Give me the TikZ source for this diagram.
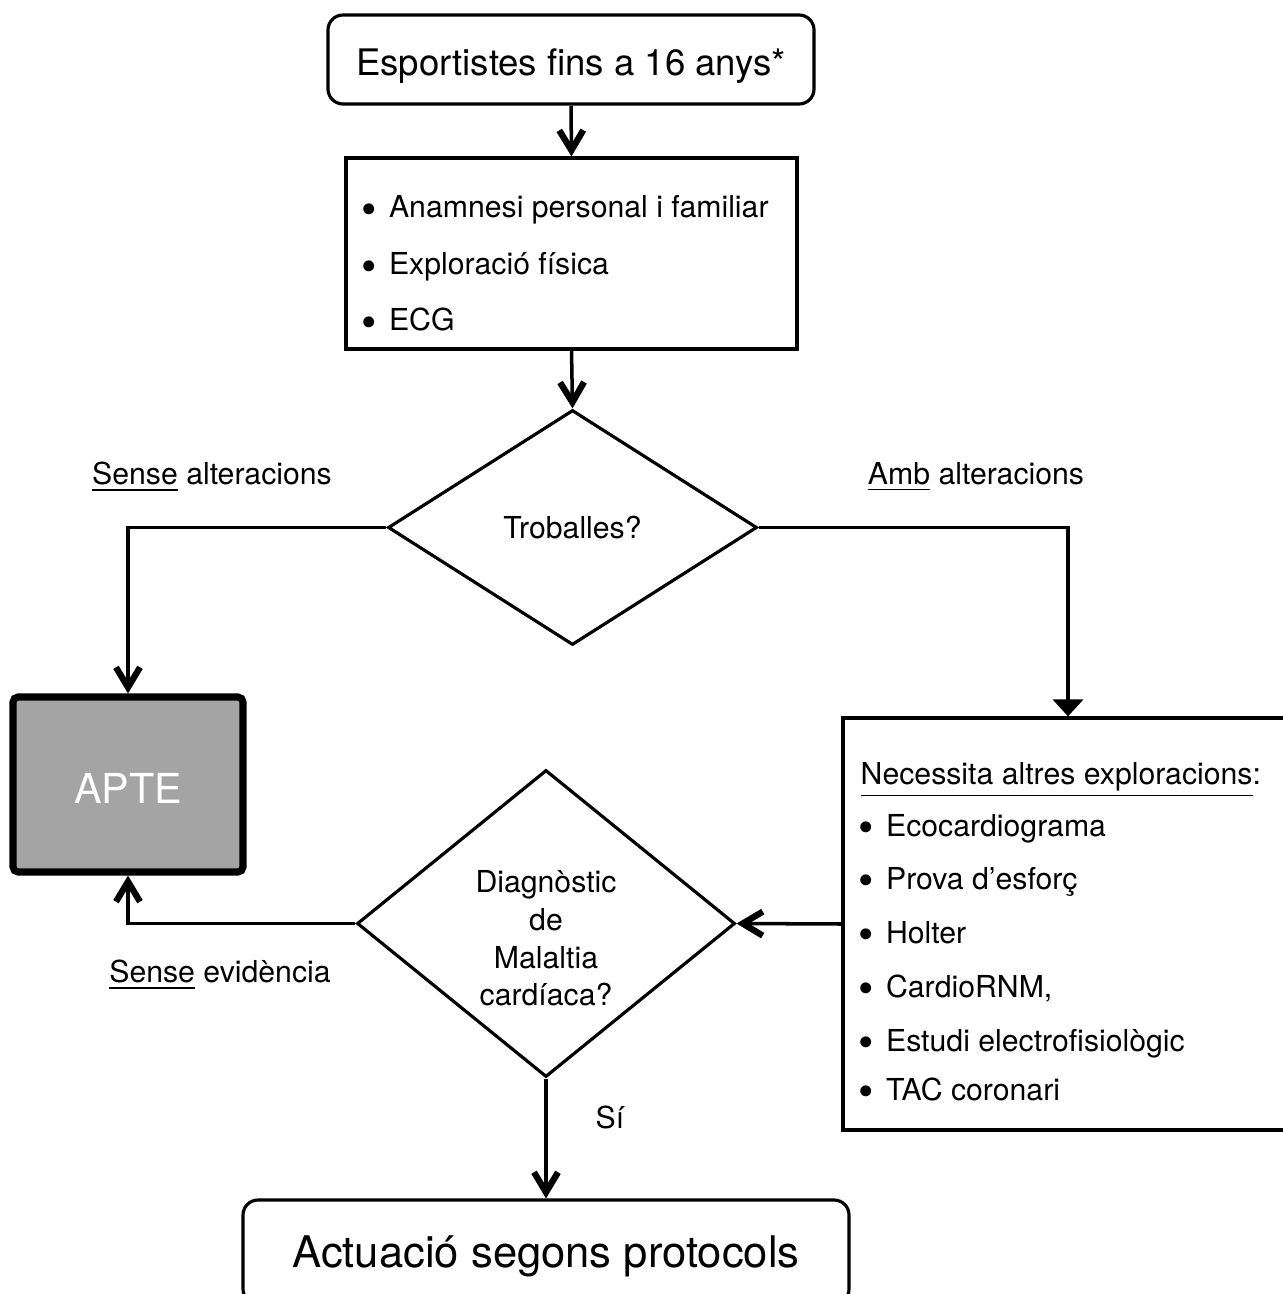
\documentclass[tikz,border=0pt]{standalone}
\usepackage{fontspec}
\setmainfont{TeX Gyre Heros}
\usepackage{xcolor}
\usepackage{tikz}
\usetikzlibrary{positioning}
\usetikzlibrary{shapes.geometric}
\usetikzlibrary{arrows.meta}
\definecolor{aptegray}{HTML}{A4A4A4}
\newcommand{\bul}{{\raisebox{-1.8pt}{\fontsize{12.5}{10}\selectfont •}\hspace{1.2mm}}}
\newcommand{\lowered}[2]{\raisebox{-#1}[\height][\depth]{#2}}

\begin{document}
\begin{tikzpicture}
  [
    rbox/.style={
      draw=black,
      line width=0.9pt,
      rounded corners=1.5mm,
      inner sep=0pt
    },
    sbox/.style={draw=black, line width=0.9pt, inner sep=0pt},
    choice/.style={diamond, draw=black, line width=0.9pt, inner sep=0pt,
      font=\fontsize{8.6}{10.7}\selectfont},
    txt/.style={font=\fontsize{8.6}{10}\selectfont, inner sep=0pt, anchor=base west},
    lbl/.style={font=\fontsize{8.6}{10}\selectfont, inner sep=0pt},
    ar/.style={line width=1pt, -{Straight Barb[length=2mm,width=2.4mm,line width=1.8pt]}},
    arf/.style={line width=1pt, -{Triangle[length=1.7mm,width=3mm]}}
  ]
  \useasboundingbox (0,0) rectangle (12.82,-12.94);

  \node (start) at (5.71,-0.595) [rbox, minimum width=4.86cm, minimum height=0.89cm,
    font=\fontsize{10.4}{12}\selectfont] {\lowered{0.07cm}{Esportistes fins a 16 anys*}};

  \node (exam) at (5.715,-2.535) [sbox, minimum width=4.51cm, minimum height=1.91cm] {};
  \node (e1) at (3.61,-2.18) [txt] {\bul Anamnesi personal i familiar};
  \node (e2) at (3.61,-2.75) [txt] {\bul Exploració física};
  \node (e3) at (3.61,-3.31) [txt] {\bul ECG};

  \node (troballes) at (5.725,-5.275) [choice, minimum width=3.69cm, minimum height=2.35cm] {Troballes?};

  \node (apte) at (1.28,-7.845) [sbox, fill=aptegray, line width=2pt, rounded corners=0.5mm,
    minimum width=2.3cm, minimum height=1.75cm, text=white,
    font=\fontsize{11.75}{14}\selectfont] {\lowered{0.04cm}{APTE}};

  \node (proves) at (10.68,-9.24) [sbox, minimum width=4.5cm, minimum height=4.12cm] {};
  \node (p0) at (8.60,-7.84) [txt] {\underline{Necessita altres exploracions}:};
  \node (p1) at (8.58,-8.36) [txt] {\bul Ecocardiograma};
  \node (p2) at (8.58,-8.89) [txt] {\bul Prova d’esforç};
  \node (p3) at (8.58,-9.43) [txt] {\bul Holter};
  \node (p4) at (8.58,-9.97) [txt] {\bul CardioRNM,};
  \node (p5) at (8.58,-10.51) [txt] {\bul Estudi electrofisiològic};
  \node (p6) at (8.58,-11.00) [txt] {\bul TAC coronari};

  \node (diag) at (5.46,-9.235) [choice, minimum width=3.78cm, minimum height=3.07cm] {};
  \node (diagtxt) at (5.46,-9.385) [align=center, inner sep=0pt,
    font=\fontsize{8.6}{10.7}\selectfont] {Diagnòstic\\de\\Malaltia\\cardíaca?};

  \node (protocol) at (5.46,-12.52) [rbox, minimum width=6.06cm, minimum height=1.04cm,
    font=\fontsize{12.4}{14}\selectfont] {\lowered{0.04cm}{Actuació segons protocols}};

  \node (sense1) at (2.12,-4.77) [lbl] {\underline{Sense} alteracions};
  \node (amb)    at (9.76,-4.77) [lbl] {\underline{Amb} alteracions};
  \node (sense2) at (2.20,-9.75) [lbl] {\underline{Sense} evidència};
  \node (si)     at (6.10,-11.17) [lbl] {Sí};

  \draw [ar] (start.south) -- (exam.north);
  \draw [ar] (exam.south) -- (troballes.north);
  \draw [ar] (troballes.west) -| (apte.north);
  \draw [arf] (troballes.east) -| (proves.north);
  \draw [ar] (proves.west) -- (diag.east);
  \draw [ar] (diag.west) -| (apte.south);
  \draw [ar] (diag.south) -- (protocol.north);
\end{tikzpicture}
\end{document}
